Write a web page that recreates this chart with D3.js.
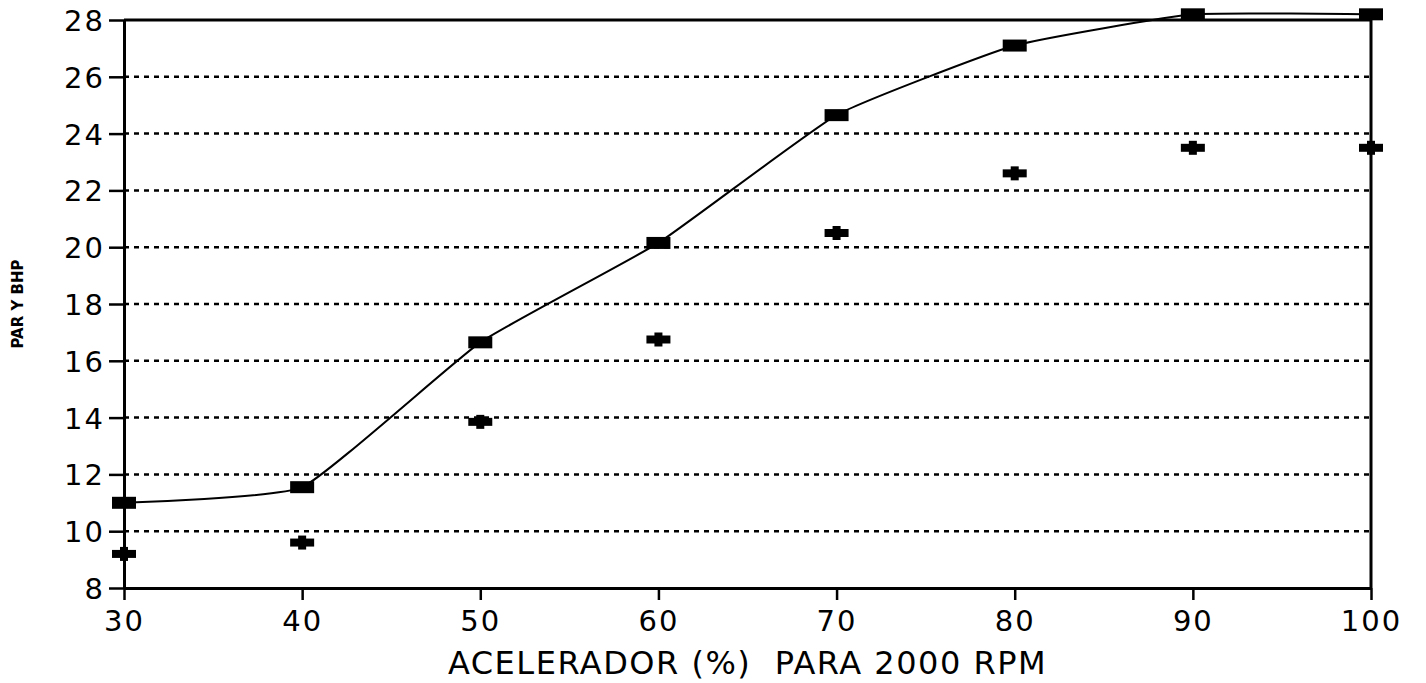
<!DOCTYPE html>
<html>
<head>
<meta charset="utf-8">
<script src="https://cdn.jsdelivr.net/npm/d3@7"></script>
<style>
  html, body { margin: 0; padding: 0; background: #fff; }
  svg { display: block; }
  text { font-family: "DejaVu Sans", "Liberation Sans", sans-serif; fill: #000; }
</style>
</head>
<body>
<svg id="chart" width="1426" height="683"></svg>
<script>
// accelerator opening (%) at 2000 rpm
const acelerador = [30, 40, 50, 60, 70, 80, 90, 100];
// torque (square markers, joined by a line)
const par = [11.0, 11.55, 16.65, 20.15, 24.65, 27.1, 28.2, 28.2];
// brake horse power (cross markers, no line)
const bhp = [9.2, 9.6, 13.85, 16.75, 20.5, 22.6, 23.5, 23.5];

const xTicks = [30, 40, 50, 60, 70, 80, 90, 100];
const yTicks = [8, 10, 12, 14, 16, 18, 20, 22, 24, 26, 28];

const margin = { top: 20, right: 55, bottom: 95, left: 124 };
const width = 1426, height = 683;

const svg = d3.select('#chart');

const x = d3.scaleLinear().domain([30, 100]).range([margin.left, width - margin.right]);
const y = d3.scaleLinear().domain([8, 28]).range([height - margin.bottom, margin.top]);

// dotted grid lines (frame at 8 and 28 drawn solid)
svg.append('g')
    .selectAll('line')
    .data(yTicks.filter(d => d > 8 && d < 28))
    .join('line')
    .attr('x1', x(30))
    .attr('x2', x(100))
    .attr('y1', d => y(d))
    .attr('y2', d => y(d))
    .attr('stroke', '#000')
    .attr('stroke-width', 2.5)
    .attr('stroke-dasharray', '5,5');

// y axis with long ticks to the left
const yAxis = svg.append('g')
    .attr('transform', `translate(${x(30)},0)`)
    .call(d3.axisLeft(y).tickValues(yTicks).tickSize(15).tickSizeOuter(0).tickPadding(4));

// x axis
const xAxis = svg.append('g')
    .attr('transform', `translate(0,${y(8)})`)
    .call(d3.axisBottom(x).tickValues(xTicks).tickSize(12).tickSizeOuter(0).tickPadding(6));

[yAxis, xAxis].forEach(g => {
    g.select('.domain').attr('stroke', '#000').attr('stroke-width', 3);
    g.selectAll('.tick line').attr('stroke', '#000').attr('stroke-width', 2.5);
    g.selectAll('.tick text')
        .style('font-family', '"DejaVu Sans", sans-serif')
        .style('font-size', '29px')
        .style('letter-spacing', '2px')
        .attr('fill', '#000');
});
yAxis.selectAll('.tick text').attr('dy', '0.36em');
xAxis.selectAll('.tick text').attr('dy', '0.85em');

// top and right frame
svg.append('path')
    .attr('d', `M${x(30)},${y(28)}H${x(100)}V${y(8)}`)
    .attr('fill', 'none')
    .attr('stroke', '#000')
    .attr('stroke-width', 3);

// torque line
const pts = acelerador.map((a, i) => [x(a), y(par[i])]);
svg.append('path')
    .attr('d', d3.line().curve(d3.curveCardinal.tension(0.6))(pts))
    .attr('fill', 'none')
    .attr('stroke', '#000')
    .attr('stroke-width', 2);

// square markers
svg.append('g')
    .selectAll('rect')
    .data(acelerador.map((a, i) => ({ a, v: par[i] })))
    .join('rect')
    .attr('x', d => x(d.a) - 12)
    .attr('y', d => y(d.v) - 6)
    .attr('width', 24)
    .attr('height', 12)
    .attr('fill', '#000');

// cross markers
const crosses = svg.append('g')
    .selectAll('g')
    .data(acelerador.map((a, i) => ({ a, v: bhp[i] })))
    .join('g')
    .attr('transform', d => `translate(${x(d.a)},${y(d.v)})`);
crosses.append('rect')
    .attr('x', -12).attr('y', -4).attr('width', 24).attr('height', 8)
    .attr('fill', '#000');
crosses.append('rect')
    .attr('x', -4).attr('y', -7).attr('width', 8).attr('height', 14)
    .attr('fill', '#000');

// axis titles
svg.append('text')
    .attr('x', (x(30) + x(100)) / 2)
    .attr('y', 674)
    .attr('text-anchor', 'middle')
    .style('font-size', '32px')
    .style('letter-spacing', '1.5px')
    .style('white-space', 'pre')
    .text('ACELERADOR (%)  PARA 2000 RPM');

svg.append('text')
    .attr('transform', `translate(23,${y(18)}) rotate(-90)`)
    .attr('text-anchor', 'middle')
    .style('font-size', '15px')
    .style('font-weight', 'bold')
    .text('PAR Y BHP');
</script>
</body>
</html>
